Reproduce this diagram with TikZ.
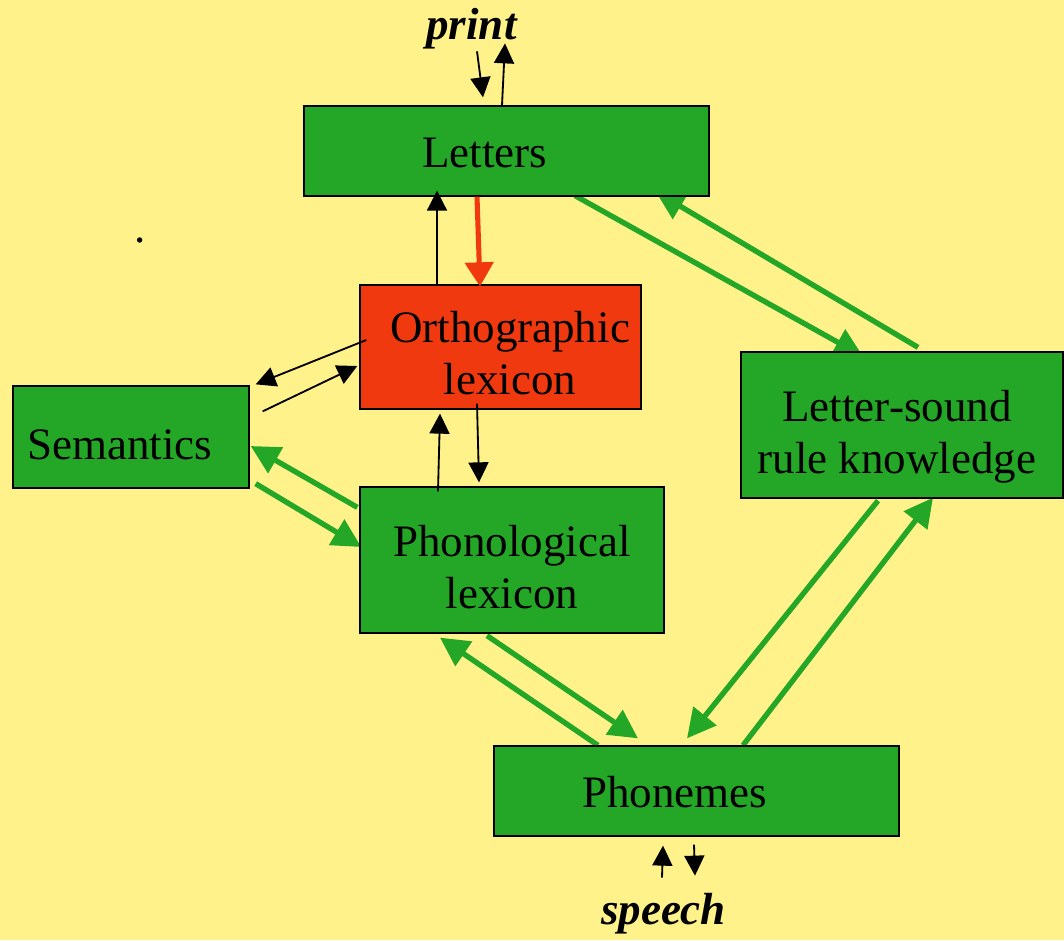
\documentclass[tikz,border=0pt]{standalone}
\usepackage{fontspec}
\setmainfont{Liberation Serif}
\usepackage{xcolor}
\definecolor{paper}{RGB}{255,242,138}
\definecolor{leaf}{RGB}{36,166,38}
\definecolor{brick}{RGB}{240,57,14}
\usepackage{tikz}
\usetikzlibrary{arrows.meta,calc,backgrounds}
\tikzset{
  modbox/.style={draw=black, line width=0.9pt, fill=leaf, inner sep=0pt},
  lbl/.style={font=\fontsize{32}{37}\selectfont, inner sep=0pt, align=center},
  io/.style={font=\fontsize{32}{37}\selectfont\bfseries\itshape, inner sep=0pt},
  blk/.style={line width=1.3pt, -{Triangle[length=0.5cm,width=0.5cm]}},
  grn/.style={leaf, line width=3.8pt, -{Triangle[length=0.72cm,width=0.72cm]}},
  redarr/.style={brick, line width=3.6pt, -{Triangle[length=0.6cm,width=0.7cm]}},
}

\begin{document}
\begin{tikzpicture}[x=0.025cm,y=-0.025cm]
\node[modbox, minimum width=10.125cm, minimum height=2.25cm] (letters) at (506.5,151) {};
\node[modbox, fill=brick, minimum width=7.025cm, minimum height=3.1cm] (ortho) at (500.5,347) {};
\node[modbox, minimum width=5.9cm, minimum height=2.55cm] (sem) at (131,437) {};
\node[modbox, minimum width=7.6cm, minimum height=3.65cm] (phono) at (512,560) {};
\node[modbox, minimum width=8.05cm, minimum height=3.65cm] (lsr) at (902,425) {};
\node[modbox, minimum width=10.125cm, minimum height=2.25cm] (phonemes) at (696.5,791) {};

\node[lbl] (letters-t) at (484.5,152.5) {Letters};
\node[lbl] (ortho-t) at (510,353.5) {Orthographic\\lexicon};
\node[lbl] (sem-t) at (119.5,444.5) {Semantics};
\node[lbl] (phono-t) at (512,567) {Phonological\\lexicon};
\node[lbl] (lsr-t) at (897,437) {Letter-sound\\rule knowledge};
\node[lbl] (phonemes-t) at (674.5,792.5) {Phonemes};
\node[io] (print) at (471.5,28.5) {print};
\node[io] (speech) at (663.5,914) {speech};
\node[lbl] (dot) at (140,240) {.};

\begin{scope}[on background layer]
\fill[paper] (0,0) rectangle (1064,940);
\draw[grn] ($(phono.north west)+(-2,21)$) -- ($(sem.east)+(1,9)$);
\draw[grn] ($(sem.south east)+(6,-5)$) -- ($(phono.west)+(2,-13)$);
\draw[grn] ($(letters.south)+(68.5,-1)$) -- ($(lsr.north)+(-39,5)$);
\draw[grn] ($(lsr.north)+(16,-4)$) -- ($(letters.south east)+(-54,-5)$);
\draw[grn] ($(phono.south)+(-25,2)$) -- ($(phonemes.north)+(-58.5,-7)$);
\draw[grn] ($(phonemes.north)+(-98.5,0)$) -- ($(phono.south)+(-72,4)$);
\draw[grn] ($(lsr.south)+(-24,2)$) -- ($(phonemes.north)+(-9.5,-7)$);
\draw[grn] ($(phonemes.north)+(46.5,0)$) -- ($(lsr.south)+(31,-1)$);
\end{scope}

\draw[blk] ($(letters.north)+(-29.5,-54)$) -- ($(letters.north)+(-23.5,-8)$);
\draw[blk] ($(letters.north)+(-4.5,0)$) -- ($(letters.north)+(-1.5,-62)$);
\draw[blk] ($(ortho.north)+(-63.5,0)$) -- ($(letters.south)+(-69.5,-6)$);
\draw[redarr] ($(letters.south)+(-29.5,0)$) -- ($(ortho.north)+(-20.5,2)$);
\draw[blk] ($(ortho.west)+(7,-7)$) -- ($(sem.north east)+(6,-1)$);
\draw[blk] ($(sem.north east)+(13,26)$) -- ($(ortho.west)+(-2,19)$);
\draw[blk] ($(phono.north)+(-74,5)$) -- ($(ortho.south)+(-60.5,4)$);
\draw[blk] ($(ortho.south)+(-23.5,-6)$) -- ($(phono.north)+(-33,-4)$);
\draw[blk] ($(phonemes.south)+(-34.5,41)$) -- ($(phonemes.south)+(-33.5,9)$);
\draw[blk] ($(phonemes.south)+(-2.5,8)$) -- ($(phonemes.south)+(-1.5,39)$);
\end{tikzpicture}
\end{document}
